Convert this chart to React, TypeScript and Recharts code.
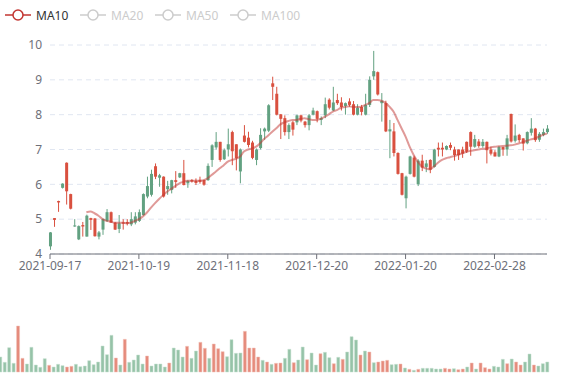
import { ComposedChart, Bar, Line, XAxis, YAxis, CartesianGrid, Cell } from 'recharts';

const dates = [
  '2021-09-17', '2021-09-20', '2021-09-21', '2021-09-22', '2021-09-23', '2021-09-24',
  '2021-09-27', '2021-09-28', '2021-09-29', '2021-09-30', '2021-10-01',
  '2021-10-04', '2021-10-05', '2021-10-06', '2021-10-07', '2021-10-08',
  '2021-10-11', '2021-10-12', '2021-10-13', '2021-10-14', '2021-10-15',
  '2021-10-18', '2021-10-19', '2021-10-20', '2021-10-21', '2021-10-22',
  '2021-10-25', '2021-10-26', '2021-10-27', '2021-10-28', '2021-10-29',
  '2021-11-01', '2021-11-02', '2021-11-03', '2021-11-04', '2021-11-05',
  '2021-11-08', '2021-11-09', '2021-11-10', '2021-11-11', '2021-11-12',
  '2021-11-15', '2021-11-16', '2021-11-17', '2021-11-18', '2021-11-19',
  '2021-11-22', '2021-11-23', '2021-11-24', '2021-11-25', '2021-11-26',
  '2021-11-29', '2021-11-30', '2021-12-01', '2021-12-02', '2021-12-03',
  '2021-12-06', '2021-12-07', '2021-12-08', '2021-12-09', '2021-12-10',
  '2021-12-13', '2021-12-14', '2021-12-15', '2021-12-16', '2021-12-17',
  '2021-12-20', '2021-12-21', '2021-12-22', '2021-12-23', '2021-12-24',
  '2021-12-27', '2021-12-28', '2021-12-29', '2021-12-30', '2021-12-31',
  '2022-01-04', '2022-01-05', '2022-01-06', '2022-01-07',
  '2022-01-10', '2022-01-11', '2022-01-12', '2022-01-13', '2022-01-14',
  '2022-01-17', '2022-01-18', '2022-01-19', '2022-01-20', '2022-01-21',
  '2022-01-24', '2022-01-25', '2022-01-26', '2022-01-27', '2022-01-28',
  '2022-02-07', '2022-02-08', '2022-02-09', '2022-02-10', '2022-02-11',
  '2022-02-14', '2022-02-15', '2022-02-16', '2022-02-17', '2022-02-18',
  '2022-02-21', '2022-02-22', '2022-02-23', '2022-02-24', '2022-02-25',
  '2022-02-28', '2022-03-01', '2022-03-02', '2022-03-03', '2022-03-04',
  '2022-03-07', '2022-03-08', '2022-03-09', '2022-03-10', '2022-03-11',
  '2022-03-14', '2022-03-15', '2022-03-16', '2022-03-17',
];

// open / close / high / low
const opens = [
  4.22, 5.03, 5.52, 5.90, 6.62, 5.72, 4.79, 4.42, 4.83, 4.50,
  5.03, 5.02, 4.50, 4.70, 4.95, 5.20, 4.90, 4.72, 4.91, 4.92,
  4.85, 4.90, 4.95, 5.12, 5.65, 5.70, 6.52, 6.19, 6.22, 5.86,
  5.84, 6.12, 6.20, 6.32, 6.03, 6.12, 6.10, 6.12, 6.12, 6.12,
  6.70, 7.06, 7.22, 6.72, 7.00, 7.50, 7.15, 6.37, 7.40, 7.34,
  7.20, 6.70, 7.04, 7.52, 7.54, 8.90, 8.60, 8.01, 7.90, 7.50,
  7.78, 7.78, 7.98, 7.80, 7.70, 8.00, 8.10, 7.85, 7.98, 8.43,
  8.12, 8.42, 8.35, 8.25, 8.38, 8.30, 8.00, 8.22, 8.00, 8.28,
  9.10, 9.22, 8.33, 8.33, 7.52, 7.52, 6.90, 6.32, 5.60, 6.30,
  6.77, 6.00, 6.68, 6.50, 6.70, 6.50, 7.05, 7.05, 7.00, 7.13,
  7.00, 7.00, 7.00, 7.22, 7.50, 7.08, 7.23, 7.10, 7.22, 7.00,
  6.92, 6.80, 7.07, 7.00, 8.02, 7.25, 7.42, 7.32, 7.18, 7.48,
  7.60, 7.28, 7.42, 7.50,
];
const closes = [
  4.62, 4.98, 5.48, 6.02, 5.80, 5.30, 4.82, 4.80, 4.79, 5.10,
  4.98, 4.51, 4.62, 5.00, 5.20, 4.90, 4.70, 4.88, 4.87, 4.87,
  5.00, 5.08, 5.20, 5.72, 5.95, 6.30, 6.22, 6.26, 5.65, 5.95,
  6.12, 6.07, 6.32, 5.98, 6.10, 6.08, 6.04, 6.07, 5.99, 6.53,
  7.12, 7.22, 6.70, 6.98, 7.15, 6.95, 6.75, 7.00, 7.22, 7.13,
  6.76, 7.00, 7.42, 7.60, 8.27, 8.80, 8.00, 7.88, 7.50, 7.70,
  7.57, 7.98, 7.83, 7.70, 7.98, 8.12, 7.88, 7.90, 8.30, 8.20,
  8.35, 8.33, 8.22, 8.33, 8.28, 8.00, 8.20, 8.08, 8.28, 9.00,
  9.25, 8.58, 8.40, 7.52, 7.58, 6.90, 6.30, 5.70, 6.22, 6.80,
  6.22, 6.68, 6.48, 6.60, 6.42, 7.00, 7.00, 7.00, 7.10, 7.05,
  6.84, 6.84, 6.88, 6.94, 7.08, 7.30, 7.10, 7.22, 6.98, 6.88,
  6.80, 7.07, 7.00, 7.32, 7.23, 7.40, 7.27, 7.17, 7.50, 7.60,
  7.27, 7.45, 7.50, 7.60,
];
const highs = [
  4.63, 5.03, 5.53, 6.03, 6.63, 5.73, 5.00, 4.82, 4.92, 5.13,
  5.04, 5.03, 4.66, 5.02, 5.29, 5.22, 4.92, 5.12, 5.00, 5.00,
  5.20, 5.20, 5.28, 5.74, 6.22, 6.42, 6.60, 6.30, 6.23, 6.10,
  6.13, 6.38, 6.33, 6.70, 6.12, 6.15, 6.17, 6.22, 6.13, 6.60,
  7.15, 7.50, 7.22, 7.03, 7.60, 7.54, 7.15, 7.03, 7.70, 7.51,
  7.25, 7.03, 7.61, 7.63, 8.30, 9.09, 8.80, 8.02, 7.98, 7.75,
  7.82, 8.00, 8.00, 7.82, 8.02, 8.20, 8.12, 7.95, 8.49, 8.47,
  8.80, 8.60, 8.50, 8.35, 8.47, 8.39, 8.30, 8.28, 8.60, 9.10,
  9.83, 9.24, 8.62, 8.40, 7.85, 7.76, 6.92, 6.33, 6.25, 6.82,
  6.82, 6.72, 6.85, 6.70, 6.72, 7.02, 7.20, 7.20, 7.12, 7.20,
  7.08, 7.00, 7.08, 7.23, 7.52, 7.42, 7.30, 7.30, 7.23, 7.08,
  6.98, 7.10, 7.08, 7.42, 8.03, 7.72, 7.45, 7.32, 7.52, 7.90,
  7.62, 7.50, 7.60, 7.70,
];
const lows = [
  4.12, 4.78, 5.21, 5.88, 5.42, 5.28, 4.78, 4.40, 4.50, 4.50,
  4.69, 4.50, 4.42, 4.55, 4.92, 4.90, 4.69, 4.60, 4.70, 4.82,
  4.80, 4.85, 4.92, 5.10, 5.60, 5.65, 6.15, 5.93, 5.62, 5.70,
  5.74, 5.90, 6.18, 5.97, 5.90, 6.05, 5.98, 6.02, 5.96, 6.10,
  6.50, 7.00, 6.65, 6.70, 6.80, 6.55, 6.40, 6.03, 7.20, 7.06,
  6.72, 6.55, 7.00, 7.28, 7.50, 8.42, 7.98, 7.30, 7.40, 7.30,
  7.40, 7.70, 7.78, 7.63, 7.55, 7.98, 7.78, 7.70, 7.90, 8.15,
  8.10, 8.28, 8.12, 8.00, 8.23, 7.98, 7.98, 7.98, 7.98, 8.22,
  9.00, 8.55, 7.80, 7.50, 6.75, 6.80, 6.28, 5.68, 5.31, 6.28,
  6.20, 5.95, 6.38, 6.35, 6.32, 6.48, 6.80, 6.80, 6.98, 6.98,
  6.68, 6.70, 6.76, 6.90, 6.82, 7.05, 7.05, 7.05, 6.60, 6.83,
  6.80, 6.78, 6.82, 6.82, 7.20, 7.20, 7.20, 6.97, 7.15, 7.40,
  7.22, 7.22, 7.38, 7.45,
];

const ma10 = [
  null, null, null, null, null, null, null, null, null, 5.20,
  5.22, 5.17, 5.10, 5.00, 4.95, 4.93, 4.90, 4.90, 4.90, 4.88,
  4.90, 4.95, 5.00, 5.08, 5.19, 5.33, 5.46, 5.58, 5.69, 5.79,
  5.87, 5.95, 6.03, 6.07, 6.10, 6.10, 6.10, 6.11, 6.12, 6.17,
  6.27, 6.36, 6.46, 6.55, 6.65, 6.70, 6.73, 6.79, 6.94, 7.00,
  7.03, 7.08, 7.18, 7.30, 7.40, 7.51, 7.61, 7.72, 7.78, 7.82,
  7.85, 7.85, 7.88, 7.90, 7.87, 7.85, 7.85, 7.88, 7.94, 8.01,
  8.09, 8.13, 8.20, 8.22, 8.24, 8.22, 8.22, 8.23, 8.28, 8.33,
  8.42, 8.42, 8.40, 8.34, 8.23, 8.09, 7.85, 7.61, 7.37, 7.08,
  6.84, 6.65, 6.51, 6.46, 6.43, 6.51, 6.62, 6.70, 6.75, 6.78,
  6.81, 6.85, 6.89, 6.93, 6.96, 6.98, 7.00, 7.02, 7.03, 7.06,
  7.08, 7.09, 7.10, 7.11, 7.12, 7.14, 7.17, 7.21, 7.25, 7.29,
  7.32, 7.37, 7.42, 7.46,
];

const volumes = [
  15, 9.7, 24.3, 8.7, 46, 13.7, 8, 24.7, 7, 4.7,
  13.3, 6.7, 5, 7.7, 6.3, 5, 5.7, 7.7, 5.3, 6,
  11.3, 7.3, 10, 26, 17.3, 36.7, 14, 7, 32.7, 9.7,
  12, 17, 8, 16, 6, 8, 8, 5, 9, 24,
  22, 15, 25.7, 13.7, 21, 29.7, 23.7, 13.7, 28, 23.3,
  20.3, 15.3, 32.3, 18.7, 19, 40.7, 24, 24, 15, 11.7,
  10, 7.7, 8.7, 9, 13.7, 22.7, 9.3, 12, 25, 12.3,
  19, 7, 18.3, 19.7, 14.3, 8.3, 14.7, 12.7, 20, 35.3,
  32, 17, 21, 20, 9.3, 10, 11, 11.7, 7.3, 7.7,
  8, 4, 2.7, 1.7, 2.7, 3.7, 3.7, 3.7, 3, 3,
  3.7, 3, 3.3, 2.3, 3, 5, 9, 3, 9, 4.3,
  3, 5.7, 5, 12.7, 8.3, 13, 10, 7, 10, 18,
  7, 6, 8.3, 10,
];
// 1 = green bar, 0 = red bar
const volumeUp = [
  1, 1, 1, 1, 0, 0, 1, 1, 1, 1, 1, 0, 1, 1, 1, 0, 0, 1, 1, 1,
  1, 1, 1, 1, 1, 1, 0, 1, 0, 1, 1, 1, 1, 0, 1, 1, 1, 1, 0, 1,
  1, 1, 0, 1, 1, 0, 0, 1, 0, 0, 0, 1, 1, 1, 1, 0, 0, 0, 0, 1,
  0, 1, 0, 0, 1, 1, 0, 1, 1, 0, 1, 1, 0, 1, 1, 0, 1, 0, 1, 1,
  1, 0, 1, 0, 1, 0, 0, 0, 1, 1, 0, 1, 0, 1, 0, 1, 1, 1, 1, 1,
  0, 0, 1, 0, 0, 1, 0, 1, 0, 0, 0, 1, 1, 1, 0, 1, 0, 0, 1, 1,
  0, 1, 1, 1,
];

const priceTicks = [4, 5, 6, 7, 8, 9, 10];
const dateTicks = [0, 22, 44, 66, 88, 110];
const legendNames = ['MA10', 'MA20', 'MA50', 'MA100'];
const legendOn = [true, false, false, false];

const RED = '#d9503f';
const GREEN = '#62a181';
const VOL_RED = '#e58b7c';
const VOL_GREEN = '#96c3a8';
const MA_COLOR = '#c23531';
const AXIS = '#6e7079';
const FONT = '"Noto Sans", sans-serif';

const rows = dates.map((d, i) => ({
  i,
  date: d,
  o: opens[i],
  c: closes[i],
  range: [lows[i], highs[i]],
  ma10: ma10[i],
  vol: volumes[i],
  up: volumeUp[i] === 1,
}));

const Candle = (props: any) => {
  const { x, y, width, height, payload } = props;
  const [l, h] = payload.range;
  const top = Math.min(y, y + height);
  const hgt = Math.abs(height);
  const k = hgt / (h - l);
  const bTop = top + (h - Math.max(payload.o, payload.c)) * k;
  const bBot = top + (h - Math.min(payload.o, payload.c)) * k;
  const color = payload.c >= payload.o ? GREEN : RED;
  const cx = x + width / 2;
  return (
    <g>
      <line x1={cx} x2={cx} y1={top} y2={top + hgt} stroke={color} strokeWidth={1} />
      <rect x={x} y={bTop} width={width} height={Math.max(bBot - bTop, 1)} fill={color} />
    </g>
  );
};

export default function App() {
  return (
    <div style={{ position: 'absolute', left: 0, top: 0, width: 577, height: 380, background: '#fff', fontFamily: FONT }}>
      <svg width={320} height={30} style={{ position: 'absolute', left: 0, top: 0 }}>
        {legendNames.map((n, k) => {
          const x0 = 5 + 75 * k;
          const col = legendOn[k] ? MA_COLOR : '#ccc';
          return (
            <g key={n}>
              <line x1={x0} x2={x0 + 26} y1={15} y2={15} stroke={col} strokeWidth={1.5} />
              <circle cx={x0 + 13} cy={15} r={5} fill="#fff" stroke={col} strokeWidth={1.5} />
              <text x={x0 + 31} y={15} dominantBaseline="central" fontSize={12} fill={legendOn[k] ? '#333' : '#ccc'} fontFamily={FONT}>
                {n}
              </text>
            </g>
          );
        })}
      </svg>

      <div style={{ position: 'absolute', left: 0, top: 0 }}>
        <ComposedChart width={577} height={290} data={rows} margin={{ top: 45, right: 30, bottom: 6, left: 0 }}>
          <CartesianGrid vertical={false} stroke="#e0e6f1" strokeDasharray="5 4" />
          <XAxis
            dataKey="i"
            type="number"
            domain={[0, dates.length - 1]}
            ticks={dateTicks}
            tickFormatter={(v: number) => dates[v]}
            interval={0}
            height={30}
            stroke={AXIS}
            tickSize={5}
            tick={{ fill: AXIS, fontSize: 12, fontFamily: FONT }}
          />
          <YAxis
            type="number"
            domain={[4, 10]}
            ticks={priceTicks}
            width={50}
            axisLine={false}
            tickLine={false}
            tick={{ fill: AXIS, fontSize: 12, fontFamily: FONT }}
          />
          <Bar dataKey="range" barSize={3} shape={Candle} isAnimationActive={false} />
          <Line
            dataKey="ma10"
            type="monotone"
            dot={false}
            stroke={MA_COLOR}
            strokeOpacity={0.5}
            strokeWidth={2}
            isAnimationActive={false}
          />
        </ComposedChart>
      </div>

      <div style={{ position: 'absolute', left: 0, top: 300 }}>
        <ComposedChart width={577} height={80} data={rows} margin={{ top: 22, right: 30, bottom: 8, left: 0 }}>
          <XAxis
            dataKey="i"
            type="number"
            domain={[0, dates.length - 1]}
            tick={false}
            tickLine={false}
            height={0}
            stroke="#444"
          />
          <YAxis type="number" domain={[0, 50]} width={50} hide />
          <Bar dataKey="vol" barSize={3} isAnimationActive={false}>
            {rows.map((r) => (
              <Cell
                key={r.i}
                fill={r.up ? VOL_GREEN : VOL_RED}
                stroke={r.up ? '#c6e0d1' : '#f3c2b9'}
                strokeWidth={0.5}
              />
            ))}
          </Bar>
        </ComposedChart>
      </div>
    </div>
  );
}
